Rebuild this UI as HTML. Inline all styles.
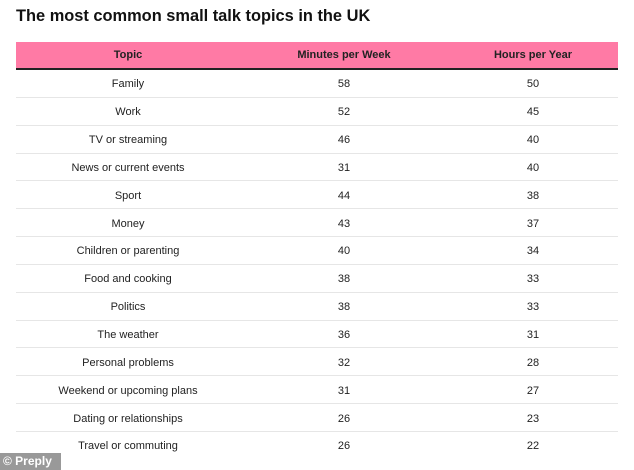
<!DOCTYPE html>
<html><head><style>
body{margin:0;width:634px;height:470px;background:#fff;font-family:"Liberation Sans",sans-serif;position:relative;overflow:hidden}
h1{position:absolute;left:16px;top:7px;margin:0;font-size:16.4px;font-weight:bold;color:#111}
table{position:absolute;left:16px;top:42px;width:602px;border-collapse:collapse;font-size:11px;color:#222}
th{background:#ff7aa5;height:26px;font-weight:bold;border-bottom:2px solid #222;padding:0}
td{height:24.85px;border-bottom:1px solid #e6e6e6;text-align:center;padding:2px 0 0 0}
td:first-child,th:first-child{width:224px}
td:nth-child(2),th:nth-child(2){width:208px}
.b{position:absolute;left:0;top:453px;width:61px;height:17px;background:#999;color:#fff;font-size:12px;font-weight:bold;line-height:17px;padding-left:3px;box-sizing:border-box}
</style></head><body>
<h1>The most common small talk topics in the UK</h1>
<table>
<tr><th>Topic</th><th>Minutes per Week</th><th>Hours per Year</th></tr>
<tr><td>Family</td><td>58</td><td>50</td></tr>
<tr><td>Work</td><td>52</td><td>45</td></tr>
<tr><td>TV or streaming</td><td>46</td><td>40</td></tr>
<tr><td>News or current events</td><td>31</td><td>40</td></tr>
<tr><td>Sport</td><td>44</td><td>38</td></tr>
<tr><td>Money</td><td>43</td><td>37</td></tr>
<tr><td>Children or parenting</td><td>40</td><td>34</td></tr>
<tr><td>Food and cooking</td><td>38</td><td>33</td></tr>
<tr><td>Politics</td><td>38</td><td>33</td></tr>
<tr><td>The weather</td><td>36</td><td>31</td></tr>
<tr><td>Personal problems</td><td>32</td><td>28</td></tr>
<tr><td>Weekend or upcoming plans</td><td>31</td><td>27</td></tr>
<tr><td>Dating or relationships</td><td>26</td><td>23</td></tr>
<tr><td style="border-bottom:none">Travel or commuting</td><td style="border-bottom:none">26</td><td style="border-bottom:none">22</td></tr>
</table>
<div class="b">© Preply</div>
</body></html>
